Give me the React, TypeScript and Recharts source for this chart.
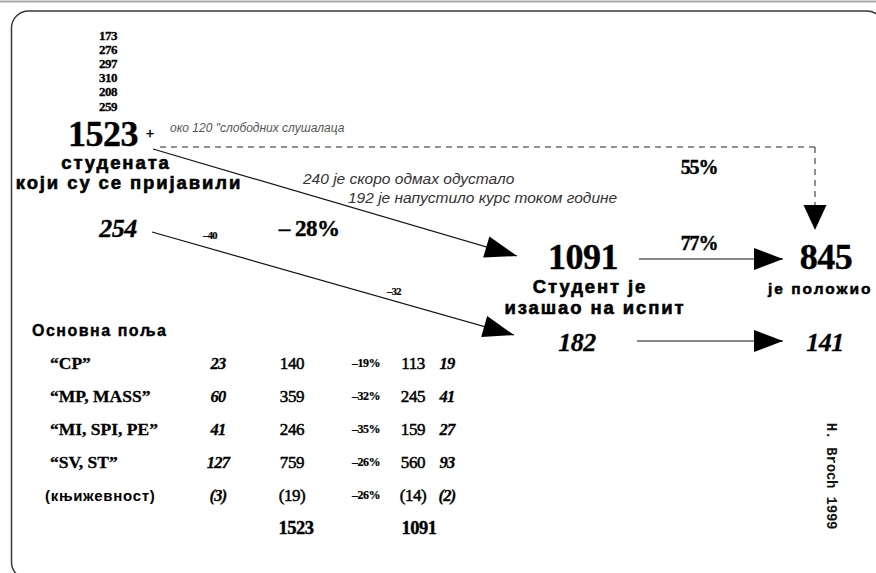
import React from "react";
import { ScatterChart, Scatter, XAxis, YAxis, ReferenceLine, ReferenceArea } from "recharts";

const W = 876;
const H = 573;

// numbers
const monthly = [173, 276, 297, 310, 208, 259];
const enrolled = 1523;
const freeListeners = 120;
const dropEarly = 240;
const dropLater = 192;
const tookExam = 1091;
const passed = 845;
const passRateAll = 55;
const passRateExam = 77;
const lossRate = 28;
const subEnrolled = 254;
const subLoss1 = 40;
const subLoss2 = 32;
const subExam = 182;
const subPassed = 141;

const fields = ["\u201CCP\u201D", "\u201CMP, MASS\u201D", "\u201CMI, SPI, PE\u201D", "\u201CSV, ST\u201D", "(књижевност)"];
const fieldSub = [23, 60, 41, 127, 3];
const fieldEnrolled = [140, 359, 246, 759, 19];
const fieldChange = [-19, -32, -35, -26, -26];
const fieldExam = [113, 245, 159, 560, 14];
const fieldSubExam = [19, 41, 27, 93, 2];

// layout (pixel positions of the hand-placed diagram)
const ROW_Y = [363, 396, 429, 462, 495];
const TOTAL_Y = 528;
const COL = { label: 50, sub: 218, enrolled: 292, change: 366, exam: 413, subExam: 447 };

const serif = "'Liberation Serif', 'Times New Roman', serif";
const sans = "'Liberation Sans', Arial, sans-serif";
const mono = "'Liberation Mono', 'Courier New', monospace";

const STYLE: Record<string, any> = {
  small: { fontFamily: serif, fontWeight: 700, fontSize: 13, letterSpacing: -0.5, stroke: "#000", strokeWidth: 0.3 },
  big: { fontFamily: serif, fontWeight: 700, fontSize: 36, letterSpacing: -0.5, stroke: "#000", strokeWidth: 0.4 },
  plus: { fontFamily: serif, fontWeight: 700, fontSize: 15, stroke: "#000", strokeWidth: 0.4 },
  aside: { fontFamily: sans, fontStyle: "italic", fontSize: 12, fill: "#555" },
  head: { fontFamily: sans, fontWeight: 700, fontSize: 18.5, letterSpacing: 1.9, stroke: "#000", strokeWidth: 0.6 },
  headSmall: { fontFamily: sans, fontWeight: 700, fontSize: 15.5, letterSpacing: 2, stroke: "#000", strokeWidth: 0.5 },
  note: { fontFamily: sans, fontStyle: "italic", fontSize: 15.5, fill: "#333" },
  pct: { fontFamily: serif, fontWeight: 700, fontSize: 20, letterSpacing: -1.2, stroke: "#000", strokeWidth: 0.4 },
  pctBig: { fontFamily: serif, fontWeight: 700, fontSize: 23, letterSpacing: -0.5, stroke: "#000", strokeWidth: 0.4 },
  bigItalic: { fontFamily: serif, fontWeight: 700, fontStyle: "italic", fontSize: 26, letterSpacing: -0.5, stroke: "#000", strokeWidth: 0.3 },
  tiny: { fontFamily: serif, fontWeight: 700, fontSize: 10.5, letterSpacing: -0.6, stroke: "#000", strokeWidth: 0.2 },
  section: { fontFamily: sans, fontWeight: 700, fontSize: 16, letterSpacing: 1.5, stroke: "#000", strokeWidth: 0.4 },
  label: { fontFamily: serif, fontWeight: 700, fontSize: 17.5, letterSpacing: 0, stroke: "#000", strokeWidth: 0.3 },
  labelSans: { fontFamily: sans, fontWeight: 700, fontSize: 15, letterSpacing: 0.7 },
  cellItalic: { fontFamily: serif, fontWeight: 700, fontStyle: "italic", fontSize: 16.5, letterSpacing: -0.8, stroke: "#000", strokeWidth: 0.3 },
  cell: { fontFamily: serif, fontSize: 17, letterSpacing: -0.4, stroke: "#000", strokeWidth: 0.5 },
  cellBold: { fontFamily: serif, fontWeight: 700, fontSize: 18.5, letterSpacing: -0.5, stroke: "#000", strokeWidth: 0.4 },
  change: { fontFamily: serif, fontWeight: 700, fontSize: 12, letterSpacing: -0.5, stroke: "#000", strokeWidth: 0.2 },
  sign: { fontFamily: mono, fontWeight: 700, fontSize: 14, letterSpacing: -0.2, fill: "#111" },
};

type Label = { x: number; y: number; text: string; kind: string; anchor?: string; rotate?: number };

const wrap = (v: number, i: number) => (i === 4 ? `(${v})` : String(v));

const labels: Label[] = [
  ...monthly.map((v, i) => ({ x: 108, y: 35 + i * 14.2, text: String(v), kind: "small" })),
  { x: 103, y: 134, text: String(enrolled), kind: "big" },
  { x: 150, y: 133, text: "+", kind: "plus" },
  { x: 170, y: 128, text: `око ${freeListeners} "слободних слушалаца`, kind: "aside", anchor: "start" },
  { x: 116, y: 162, text: "студената", kind: "head" },
  { x: 129, y: 182, text: "који су се пријавили", kind: "head" },
  { x: 303, y: 178, text: `${dropEarly} је скоро одмах одустало`, kind: "note", anchor: "start" },
  { x: 348, y: 197, text: `${dropLater} је напустило курс током године`, kind: "note", anchor: "start" },
  { x: 699, y: 167, text: `${passRateAll}%`, kind: "pct" },
  { x: 118, y: 228, text: String(subEnrolled), kind: "bigItalic" },
  { x: 210, y: 235, text: `\u2013${subLoss1}`, kind: "tiny" },
  { x: 309, y: 228, text: `\u2013 ${lossRate}%`, kind: "pctBig" },
  { x: 394, y: 291, text: `\u2013${subLoss2}`, kind: "tiny" },
  { x: 583, y: 257, text: String(tookExam), kind: "big" },
  { x: 590, y: 286, text: "Студент је", kind: "head" },
  { x: 595, y: 307, text: "изашао на испит", kind: "head" },
  { x: 699, y: 243, text: `${passRateExam}%`, kind: "pct" },
  { x: 826, y: 257, text: String(passed), kind: "big" },
  { x: 768, y: 288, text: "је положио", kind: "headSmall", anchor: "start" },
  { x: 577, y: 342, text: String(subExam), kind: "bigItalic" },
  { x: 825, y: 342, text: String(subPassed), kind: "bigItalic" },
  { x: 32, y: 330, text: "Основна поља", kind: "section", anchor: "start" },
  ...fields.flatMap((f, i) => [
    { x: i === 4 ? 45 : COL.label, y: ROW_Y[i], text: f, kind: i === 4 ? "labelSans" : "label", anchor: "start" },
    { x: COL.sub, y: ROW_Y[i], text: wrap(fieldSub[i], i), kind: "cellItalic" },
    { x: COL.enrolled, y: ROW_Y[i], text: wrap(fieldEnrolled[i], i), kind: "cell" },
    { x: COL.change, y: ROW_Y[i], text: `\u2013${Math.abs(fieldChange[i])}%`, kind: "change" },
    { x: COL.exam, y: ROW_Y[i], text: wrap(fieldExam[i], i), kind: "cell" },
    { x: COL.subExam, y: ROW_Y[i], text: wrap(fieldSubExam[i], i), kind: "cellItalic" },
  ]),
  { x: 296, y: TOTAL_Y, text: String(fieldEnrolled.reduce((a, b) => a + b, 0)), kind: "cellBold" },
  { x: 419, y: TOTAL_Y, text: String(fieldExam.reduce((a, b) => a + b, 0)), kind: "cellBold" },
  { x: 831, y: 476, text: "H. Broch 1999", kind: "sign", rotate: 90 },
];

// arrows: from -> tip
const arrows = [
  { fx: 153, fy: 149, x: 517, y: 256, len: 32, half: 11 },
  { fx: 152, fy: 232, x: 514, y: 335, len: 31, half: 11 },
  { fx: 639, fy: 259, x: 783, y: 259, len: 29, half: 11 },
  { fx: 637, fy: 341, x: 783, y: 341, len: 29, half: 11 },
  { fx: 815, fy: 147, x: 815, y: 230, len: 25, half: 11.5 },
];

const TextShape = (props: any) => {
  const { cx, cy, payload } = props;
  const s = STYLE[payload.kind];
  return (
    <text
      x={cx}
      y={cy}
      textAnchor={payload.anchor ?? "middle"}
      dominantBaseline="central"
      transform={payload.rotate ? `rotate(${payload.rotate} ${cx} ${cy})` : undefined}
      fontFamily={s.fontFamily}
      fontWeight={s.fontWeight ?? 400}
      fontStyle={s.fontStyle ?? "normal"}
      fontSize={s.fontSize}
      letterSpacing={s.letterSpacing ?? 0}
      fill={s.fill ?? "#000"}
      stroke={s.stroke ?? "none"}
      strokeWidth={s.strokeWidth ?? 0}
    >
      {payload.text}
    </text>
  );
};

const HeadShape = (props: any) => {
  const { cx, cy, payload } = props;
  const a = Math.atan2(payload.y - payload.fy, payload.x - payload.fx);
  const bx = cx - payload.len * Math.cos(a);
  const by = cy - payload.len * Math.sin(a);
  const px = -Math.sin(a) * payload.half;
  const py = Math.cos(a) * payload.half;
  const pts = `${cx},${cy} ${bx + px},${by + py} ${bx - px},${by - py}`;
  return <polygon points={pts} fill="#000" />;
};

export default function App() {
  return (
    <div style={{ position: "absolute", left: 0, top: 0, width: W, height: H, background: "#fff" }}>
      <ScatterChart width={W} height={H} margin={{ top: 0, right: 0, bottom: 0, left: 0 }}>
        <XAxis type="number" dataKey="x" domain={[0, W]} allowDataOverflow hide />
        <YAxis type="number" dataKey="y" domain={[0, H]} allowDataOverflow reversed hide />

        <ReferenceLine y={1.5} stroke="#a9a9a9" strokeWidth={2} />
        <ReferenceArea
          x1={11.5}
          x2={884}
          y1={11}
          y2={579}
          ifOverflow="visible"
          shape={(p: any) => (
            <rect x={p.x} y={p.y} width={p.width} height={p.height} rx={17} fill="none" stroke="#3a3a3a" strokeWidth={1.5} />
          )}
        />

        {/* dashed route 1523 -> 845 */}
        <ReferenceLine segment={[{ x: 160, y: 147 }, { x: 815, y: 147 }]} stroke="#222" strokeDasharray="6 5" />
        <ReferenceLine segment={[{ x: 815, y: 147 }, { x: 815, y: 206 }]} stroke="#222" strokeDasharray="6 5" />

        {arrows.slice(0, 4).map((a, i) => (
          <ReferenceLine key={i} segment={[{ x: a.fx, y: a.fy }, { x: a.x, y: a.y }]} stroke="#111" strokeWidth={1.2} />
        ))}

        <Scatter data={arrows} shape={HeadShape} isAnimationActive={false} />
        <Scatter data={labels} shape={TextShape} isAnimationActive={false} />
      </ScatterChart>
    </div>
  );
}
